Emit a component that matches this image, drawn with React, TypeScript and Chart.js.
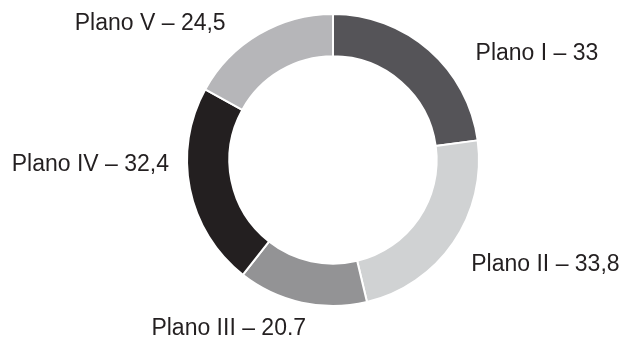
import React, { useEffect, useRef } from "react";
import { Chart, registerables, Plugin } from "chart.js";

Chart.register(...registerables);

// Plan names and their displayed values (the label text keeps its own decimal separator)
const planNames = ["Plano I", "Plano II", "Plano III", "Plano IV", "Plano V"];
const valueLabels = ["33", "33,8", "20.7", "32,4", "24,5"];
const values = valueLabels.map((s) => parseFloat(s.replace(",", ".")));
const sliceColors = ["#555458", "#d0d2d3", "#939395", "#231f20", "#b6b6b9"];

// Label anchor offsets, as fractions of the outer radius from the ring centre
const labelOffsets: [number, number][] = [
  [1.397, -0.683],
  [1.455, 0.759],
  [-0.714, 1.2],
  [-1.662, 0.076],
  [-1.252, -0.89],
];

const outsideLabels: Plugin<"doughnut"> = {
  id: "outsideLabels",
  afterDatasetsDraw(chart) {
    const meta = chart.getDatasetMeta(0);
    if (!meta.data.length) return;
    const { x, y, outerRadius } = (meta.data[0] as any).getProps(
      ["x", "y", "outerRadius"],
      true
    );
    const ctx = chart.ctx;
    ctx.save();
    ctx.font = '23px "Liberation Sans", Arial, Helvetica, sans-serif';
    ctx.fillStyle = "#231f20";
    ctx.textAlign = "center";
    ctx.textBaseline = "alphabetic";
    planNames.forEach((name, i) => {
      const [fx, fy] = labelOffsets[i];
      ctx.fillText(`${name} – ${valueLabels[i]}`, x + fx * outerRadius, y + fy * outerRadius);
    });
    ctx.restore();
  },
};

export default function App() {
  const canvasRef = useRef<HTMLCanvasElement | null>(null);

  useEffect(() => {
    if (!canvasRef.current) return;
    const chart = new Chart(canvasRef.current, {
      type: "doughnut",
      data: {
        labels: planNames,
        datasets: [
          {
            data: values,
            backgroundColor: sliceColors,
            borderColor: "#ffffff",
            borderWidth: 2,
          },
        ],
      },
      options: {
        responsive: false,
        maintainAspectRatio: false,
        animation: false,
        radius: 146,
        cutout: "71%",
        layout: { padding: { left: 43, right: 0, top: 0, bottom: 19 } },
        plugins: {
          legend: { display: false },
          tooltip: { enabled: false },
        },
      },
      plugins: [outsideLabels],
    });
    return () => chart.destroy();
  }, []);

  return (
    <div
      style={{
        position: "fixed",
        left: 0,
        top: 0,
        width: 623,
        height: 339,
        background: "#ffffff",
      }}
    >
      <canvas ref={canvasRef} width={623} height={339} />
    </div>
  );
}
